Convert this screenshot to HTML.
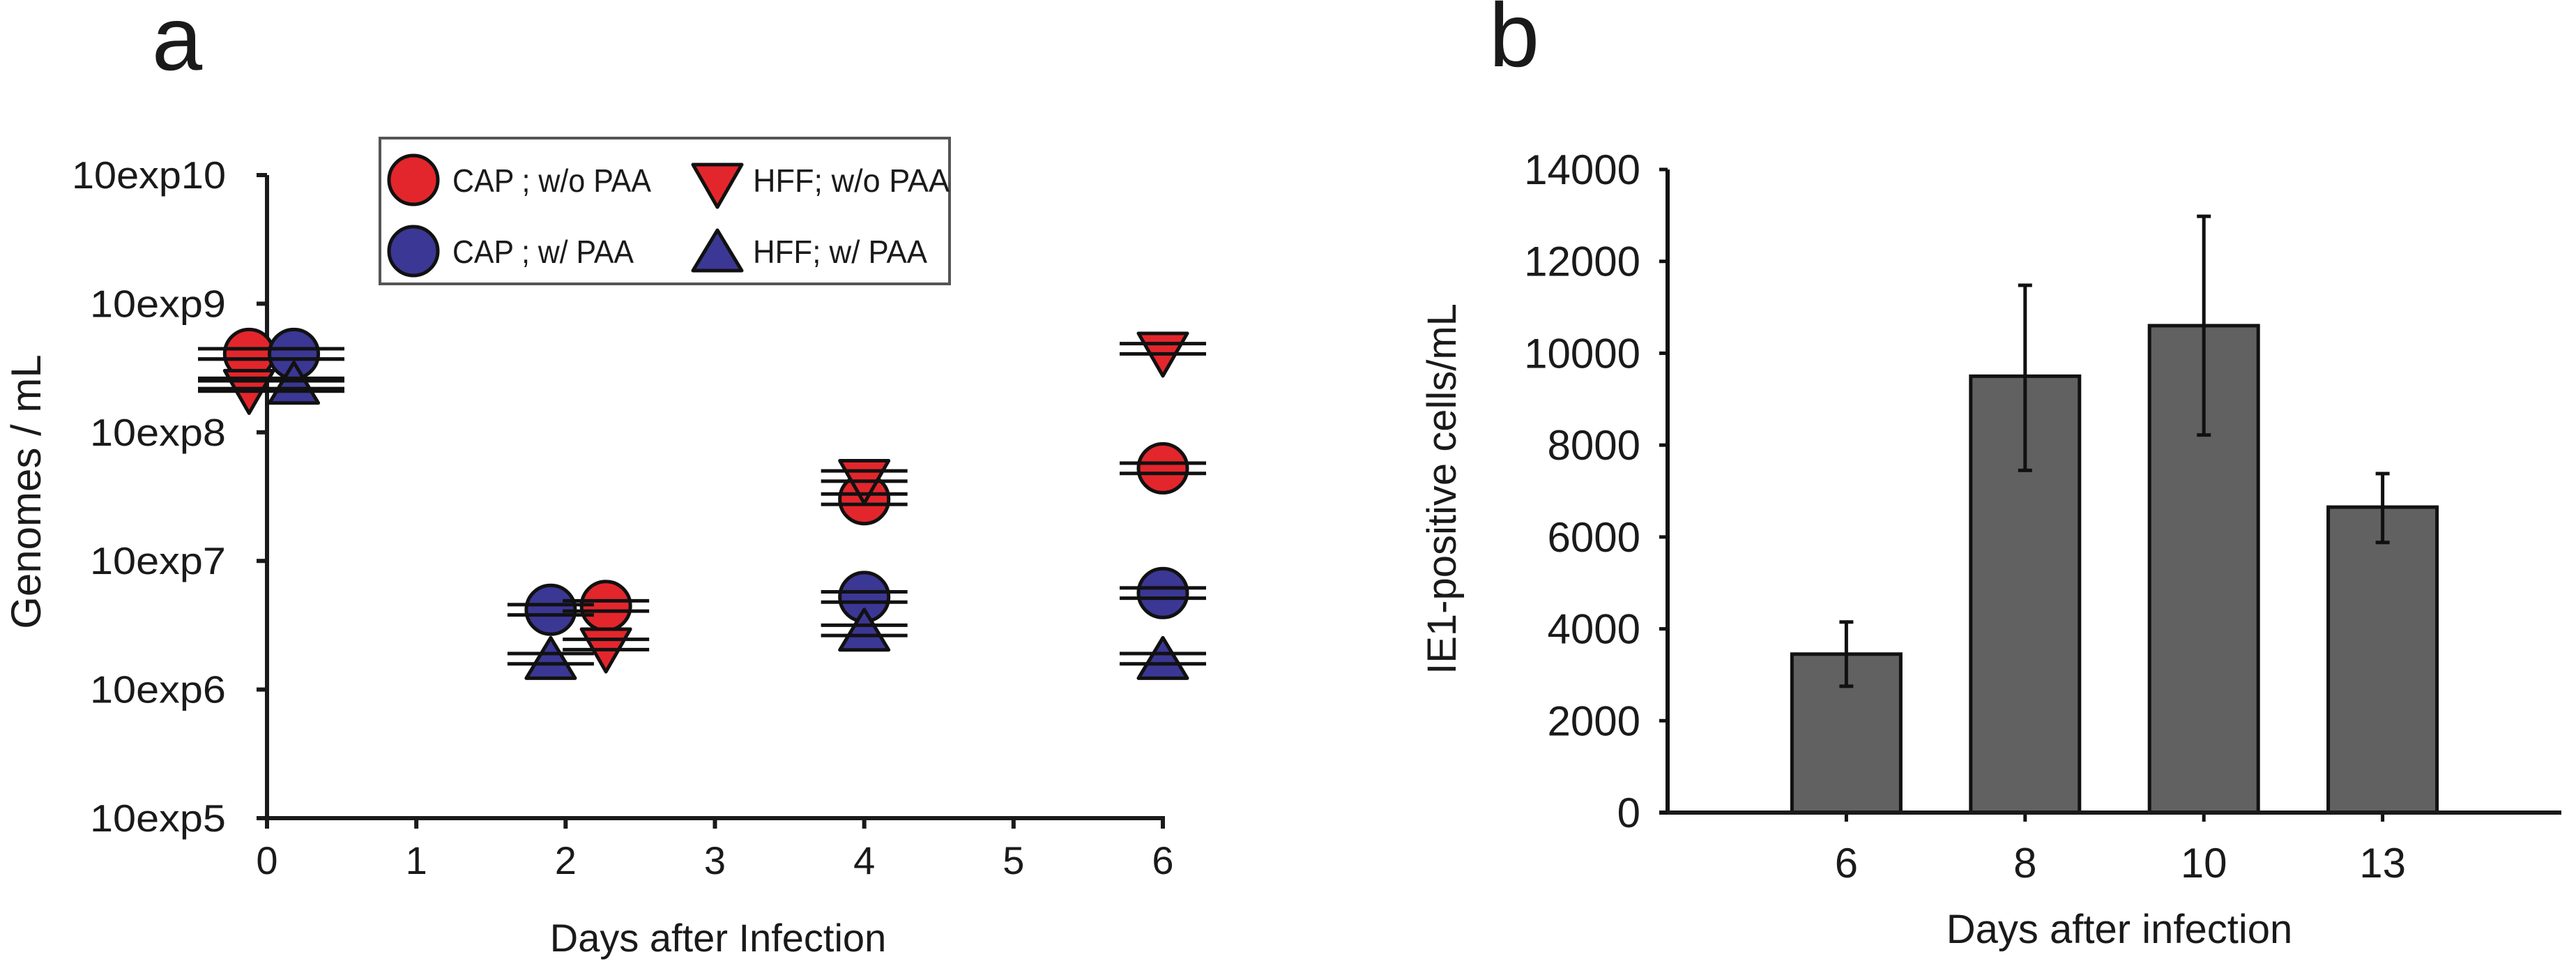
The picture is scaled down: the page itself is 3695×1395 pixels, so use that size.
<!DOCTYPE html>
<html><head><meta charset="utf-8"><style>
html,body{margin:0;padding:0;background:#fff}
svg{display:block}
text{font-family:"Liberation Sans",Arial,sans-serif;fill:#1a1a1a}
</style></head><body>
<svg id="fig" width="3695" height="1395" viewBox="0 0 3695 1395" xmlns="http://www.w3.org/2000/svg">
<g id="pa"></g>
<g id="pb"></g>
</svg>
<script>
// ---------- Panel a data ----------
const aDays = [0, 2, 4, 6];
const aTickLabels = ["10exp5","10exp6","10exp7","10exp8","10exp9","10exp10"];
const aSeriesNames = ["CAP ; w/o PAA","CAP ; w/ PAA","HFF; w/o PAA","HFF; w/ PAA"];
const capNoPaa = [8.61, 6.65, 7.48, 7.72];
const capPaa   = [8.61, 6.62, 6.72, 6.75];
const hffNoPaa = [8.36, 6.35, 7.66, 8.65];
const hffPaa   = [8.38, 6.24, 6.46, 6.24];
const capNoPaaX = [-0.12, 2.27, 4.0, 6.0];
const capPaaX   = [0.18, 1.90, 4.0, 6.0];
const hffNoPaaX = [-0.12, 2.27, 4.0, 6.0];
const hffPaaX   = [0.18, 1.90, 4.0, 6.0];
const aErr = [0.04, 0.04, 0.04, 0.04];

// ---------- Panel b data ----------
const bCats = ["6","8","10","13"];
const bValues = [3450, 9500, 10600, 6650];
const bErrLow = [2750, 7450, 8220, 5880];
const bErrHigh = [4150, 11480, 12980, 7380];
const bTicks = [0,2000,4000,6000,8000,10000,12000,14000];

const NS = "http://www.w3.org/2000/svg";
function mk(parent, tag, attrs, text){
  const e = document.createElementNS(NS, tag);
  for (const k in attrs) e.setAttribute(k, attrs[k]);
  if (text !== undefined) e.textContent = text;
  parent.appendChild(e);
  return e;
}
const pa = document.getElementById('pa');
const pb = document.getElementById('pb');

const ax0 = 383, ax6 = 1668, ayTop = 251, ayBot = 1173;
const xA = d => ax0 + (ax6 - ax0) * d / 6;
const yA = v => ayBot - (ayBot - ayTop) * (v - 5) / 5;

let t = mk(pa,'text',{x:254,y:100,'font-size':130,'text-anchor':'middle'},'a');



let l = mk(pa,'line',{x1:ax0,y1:ayTop,x2:ax0,y2:ayBot,stroke:'#1a1a1a','stroke-width':6});


l = mk(pa,'line',{x1:368,y1:ayBot,x2:ax6+3,y2:ayBot,stroke:'#1a1a1a','stroke-width':6});


aTickLabels.forEach((lab,i)=>{
  const y = yA(5+i);
  let tk = mk(pa,'line',{x1:368,y1:y,x2:ax0,y2:y,stroke:'#1a1a1a','stroke-width':6});
  
  
  let tx = mk(pa,'text',{x:324,y:y+19,'font-size':55,'text-anchor':'end',textLength:lab.length>6?221:195,lengthAdjust:'spacingAndGlyphs'},lab);
  
  
});
for(let d=0; d<=6; d++){
  const x = xA(d);
  let tk = mk(pa,'line',{x1:x,y1:ayBot,x2:x,y2:1188,stroke:'#1a1a1a','stroke-width':6});
  
  
  let tx = mk(pa,'text',{x:x,y:1253,'font-size':56,'text-anchor':'middle'},String(d));
  
  
}
t = mk(pa,'text',{x:1030,y:1364,'font-size':56,'text-anchor':'middle'},'Days after Infection');


t = mk(pa,'text',{x:0,y:0,'font-size':60,'text-anchor':'middle',transform:'translate(58,705) rotate(-90)'},'Genomes / mL');



const RED='#e3262c', BLUE='#3b3794';
function circle(g,cx,cy,fill){ return mk(g,'ellipse',{cx:cx,cy:cy,rx:35,ry:35,fill:fill,stroke:'#111','stroke-width':5}); }
function triDown(g,cx,cy,fill){ return mk(g,'polygon',{points:`${cx-35},${cy-22} ${cx+35},${cy-22} ${cx},${cy+39}`,fill:fill,stroke:'#111','stroke-width':5,'stroke-linejoin':'round'}); }
function triUp(g,cx,cy,fill){ return mk(g,'polygon',{points:`${cx-35},${cy+28} ${cx+35},${cy+28} ${cx},${cy-30}`,fill:fill,stroke:'#111','stroke-width':5,'stroke-linejoin':'round'}); }

const series = [
  {vals:capNoPaa, xs:capNoPaaX, draw:circle, fill:RED, name:'cap-no-paa'},
  {vals:capPaa, xs:capPaaX, draw:circle, fill:BLUE, name:'cap-paa'},
  {vals:hffNoPaa, xs:hffNoPaaX, draw:triDown, fill:RED, name:'hff-no-paa'},
  {vals:hffPaa, xs:hffPaaX, draw:triUp, fill:BLUE, name:'hff-paa'}
];
series.forEach((s,si)=>{
  const g = mk(pa,'g',{});
  
  
  s.vals.forEach((v,i)=>{
    const cx = xA(s.xs[i]), cy = yA(v);
    const m = s.draw(g,cx,cy,s.fill);
    
    
  });
});
series.forEach((s,si)=>{
  s.vals.forEach((v,i)=>{
    const cx = xA(s.xs[i]);
    const hw = aDays[i]===0 ? 105 : 62;
    const cxl = aDays[i]===0 ? xA(0)+6 : cx;
    [v+aErr[si], v-aErr[si]].forEach(ev=>{
      const e = mk(pa,'line',{x1:cxl-hw,y1:yA(ev),x2:cxl+hw,y2:yA(ev),stroke:'#111','stroke-width':5});
      
      
    });
  });
});

const lg = mk(pa,'g',{});


let r = mk(lg,'rect',{x:545,y:198,width:817,height:209,fill:'#fff',stroke:'#555','stroke-width':4});


const legPos = [[593,258],[593,360],[1029,258],[1029,360]];
const legTextX = [649,649,1080,1080];
const legLen = [285,260,282,250];
series.forEach((s,i)=>{
  const eg = mk(lg,'g',{});
  
  
  s.draw(eg,legPos[i][0],legPos[i][1],s.fill);
  mk(eg,'text',{x:legTextX[i],y:legPos[i][1]+17,'font-size':46,textLength:legLen[i],lengthAdjust:'spacingAndGlyphs'},aSeriesNames[i]);
});

// ---------- Panel b ----------
const bx0 = 2392, bx1 = 3674, byTop = 243, byBot = 1165, bMax = 14000;
const band = (bx1 - bx0) / 5;
const xB = i => bx0 + band * (i + 1);
const yB = v => byBot - (byBot - byTop) * v / bMax;

t = mk(pb,'text',{x:2172,y:95,'font-size':130,'text-anchor':'middle'},'b');



bValues.forEach((v,i)=>{
  const b = mk(pb,'rect',{x:xB(i)-78,y:yB(v),width:156,height:byBot-yB(v),fill:'#616161',stroke:'#111','stroke-width':5});
  
  
  const eg = mk(pb,'g',{stroke:'#111','stroke-width':5});
  
  
  mk(eg,'line',{x1:xB(i),y1:yB(bErrLow[i]),x2:xB(i),y2:yB(bErrHigh[i])});
  mk(eg,'line',{x1:xB(i)-10,y1:yB(bErrLow[i]),x2:xB(i)+10,y2:yB(bErrLow[i])});
  mk(eg,'line',{x1:xB(i)-10,y1:yB(bErrHigh[i]),x2:xB(i)+10,y2:yB(bErrHigh[i])});
  let tk = mk(pb,'line',{x1:xB(i),y1:byBot,x2:xB(i),y2:1178,stroke:'#111','stroke-width':5});
  
  
  let tx = mk(pb,'text',{x:xB(i),y:1258,'font-size':60,'text-anchor':'middle'},bCats[i]);
  
  
});
l = mk(pb,'line',{x1:bx0,y1:byTop,x2:bx0,y2:byBot,stroke:'#111','stroke-width':6});


l = mk(pb,'line',{x1:2380,y1:byBot,x2:bx1,y2:byBot,stroke:'#1a1a1a','stroke-width':6});


bTicks.forEach(v=>{
  const y = yB(v);
  let tk = mk(pb,'line',{x1:2380,y1:y,x2:bx0,y2:y,stroke:'#111','stroke-width':5});
  
  
  let tx = mk(pb,'text',{x:2353,y:y+21,'font-size':60,'text-anchor':'end'},String(v));
  
  
});
t = mk(pb,'text',{x:3040,y:1352,'font-size':58,'text-anchor':'middle'},'Days after infection');


t = mk(pb,'text',{x:0,y:0,'font-size':58,'text-anchor':'middle',fill:'#444',transform:'translate(2088,701) rotate(-90)'},'IE1-positive cells/mL');


</script>
</body></html>
